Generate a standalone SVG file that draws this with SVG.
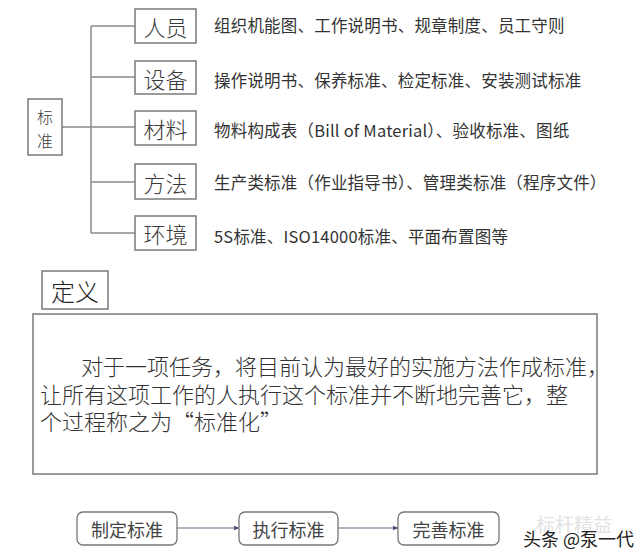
<svg xmlns="http://www.w3.org/2000/svg" width="640" height="557" viewBox="0 0 640 557">
<style>
.box{fill:#fff;stroke:#7a7a7a;stroke-width:1.5}
.ln{fill:none;stroke:#8a8a8a;stroke-width:1.5}
.lbl{font-family:"Noto Sans CJK SC",sans-serif;font-size:22px;fill:#3a3a3a;font-weight:300;text-anchor:middle;dominant-baseline:central}
.desc{font-family:"Noto Sans CJK SC",sans-serif;font-size:16.5px;letter-spacing:0.2px;fill:#333;dominant-baseline:central}
.def{font-family:"Noto Sans CJK SC",sans-serif;font-size:22px;fill:#333;font-weight:300;dominant-baseline:central}
.flow{fill:#fff;stroke:#777;stroke-width:1.3}
.ft{font-family:"Noto Sans CJK SC",sans-serif;font-size:18px;fill:#444;text-anchor:middle;dominant-baseline:central}
.arr{fill:none;stroke:#6a6a88;stroke-width:1.2;marker-end:url(#ah)}
</style>
<defs>
<marker id="ah" viewBox="0 0 8 8" refX="7" refY="4" markerWidth="6" markerHeight="6" orient="auto" markerUnits="userSpaceOnUse">
<path d="M0,1 L8,4 L0,7 Z" fill="#505078"/>
</marker>
</defs>
<rect width="640" height="557" fill="#fff"/>
<g id="connectors">
<path class="ln" d="M91,26 V233 M91,26 H135 M91,77 H135 M62,127 H135 M91,182 H135 M91,233 H135"/>
<path class="arr" d="M177,528 H239"/>
<path class="arr" d="M338,528 H398"/>
</g>
<g id="n-standard"><rect class="box" x="28" y="99" width="34" height="56"/><text class="lbl" style="font-size:16px"><tspan x="45" y="115.5">标</tspan><tspan x="45" y="139.5">准</tspan></text></g>
<g id="n-people"><rect class="box" x="135" y="9" width="61" height="34"/><text class="lbl" x="165.5" y="26">人员</text><text class="desc" x="214" y="25">组织机能图、工作说明书、规章制度、员工守则</text></g>
<g id="n-equip"><rect class="box" x="135" y="61" width="61" height="33"/><text class="lbl" x="165.5" y="77.5">设备</text><text class="desc" x="214" y="80">操作说明书、保养标准、检定标准、安装测试标准</text></g>
<g id="n-material"><rect class="box" x="135" y="111" width="61" height="34"/><text class="lbl" x="165.5" y="128">材料</text><text class="desc" x="214" y="130">物料构成表（Bill of Material）、验收标准、图纸</text></g>
<g id="n-method"><rect class="box" x="135" y="164" width="61" height="35"/><text class="lbl" x="165.5" y="181.5">方法</text><text class="desc" x="214" y="182">生产类标准（作业指导书）、管理类标准（程序文件）</text></g>
<g id="n-env"><rect class="box" x="135" y="216" width="61" height="34"/><text class="lbl" x="165.5" y="233">环境</text><text class="desc" x="214" y="236">5S标准、ISO14000标准、平面布置图等</text></g>
<g id="n-def-title"><rect class="box" x="42" y="271" width="66" height="38"/><text class="lbl" x="75" y="290" style="font-size:24px;fill:#222">定义</text></g>
<g id="n-def-body"><rect class="box" x="33" y="314" width="564" height="160"/>
<text class="def"><tspan x="81" y="365">对于一项任务，将目前认为最好的实施方法作成标准，</tspan><tspan x="40" y="393">让所有这项工作的人执行这个标准并不断地完善它，整</tspan><tspan x="40" y="420">个过程称之为“标准化”</tspan></text></g>
<g id="n-make"><rect class="flow" x="77" y="512" width="100" height="33" rx="6"/><text class="ft" x="127" y="528.5">制定标准</text></g>
<g id="n-exec"><rect class="flow" x="239" y="512" width="99" height="33" rx="6"/><text class="ft" x="288.5" y="528.5">执行标准</text></g>
<g id="n-improve"><rect class="flow" x="398" y="512" width="101" height="33" rx="6"/><text class="ft" x="448.5" y="528.5">完善标准</text></g>
<g id="watermark">
<text style="font-family:'Noto Sans CJK SC',sans-serif;dominant-baseline:central"><tspan x="536" y="523" style="font-size:19px;fill:#e2e2e2">标杆精益</tspan><tspan x="523" y="538" style="font-size:18px;fill:#222;stroke:#fff;stroke-width:2;paint-order:stroke">头条 @泵一代</tspan></text>
</g>
</svg>
